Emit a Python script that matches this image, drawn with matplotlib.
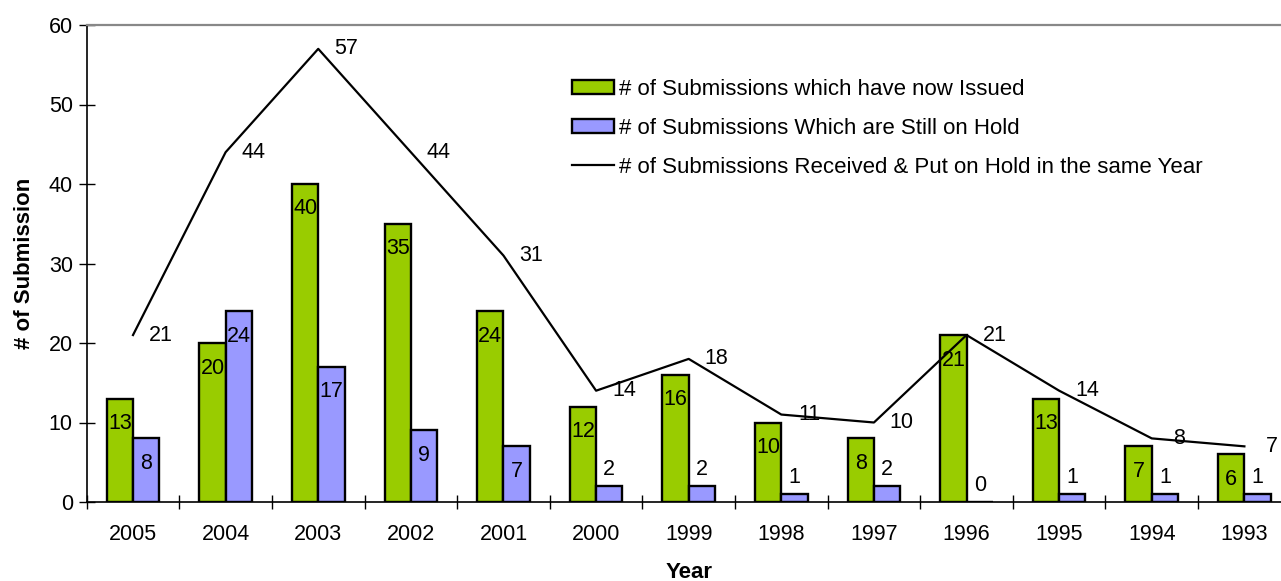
import matplotlib
matplotlib.use("Agg")
import matplotlib.pyplot as plt
import numpy as np
from matplotlib.patches import Patch
from matplotlib.lines import Line2D

plt.rcParams['font.family'] = ['Liberation Sans', 'DejaVu Sans']

years = ['2005', '2004', '2003', '2002', '2001', '2000', '1999',
         '1998', '1997', '1996', '1995', '1994', '1993']
issued = [13, 20, 40, 35, 24, 12, 16, 10, 8, 21, 13, 7, 6]
on_hold = [8, 24, 17, 9, 7, 2, 2, 1, 2, 0, 1, 1, 1]
received = [21, 44, 57, 44, 31, 14, 18, 11, 10, 21, 14, 8, 7]

GREEN = '#99CC00'
BLUE = '#9999FF'
FS = 15.5

W, H = 1281, 581
fig = plt.figure(figsize=(W / 100, H / 100), dpi=100)
ax = fig.add_axes([86.7 / W, (H - 502) / H, 1204 / W, 477 / H])

x = np.arange(len(years))
bw = 0.284

ax.bar(x - bw / 2, issued, bw, color=GREEN, edgecolor='black', linewidth=1.7, zorder=2)
ax.bar(x + bw / 2, on_hold, bw, color=BLUE, edgecolor='black', linewidth=1.7, zorder=2)
ax.plot(x, received, color='black', linewidth=1.6, zorder=3)

px = 477 / 60.0  # pixels per unit on the y axis


def bar_label(xpos, v):
    # inside the bar near its top, or just above it when the bar is short
    if v * px > 45:
        off = -18
    else:
        off = 12
    ax.annotate(str(v), (xpos, v), xytext=(0, off), textcoords='offset points',
                ha='center', va='center', fontsize=FS, zorder=4)


for i in x:
    bar_label(i - bw / 2, issued[i])
    bar_label(i + bw / 2, on_hold[i])
    ax.annotate(str(received[i]), (i, received[i]), xytext=(20, 0),
                textcoords='offset points', ha='center', va='center',
                fontsize=FS, zorder=4)

ax.set_xlim(-0.5, len(years) - 0.5)
ax.set_ylim(0, 60)
ax.set_yticks(range(0, 61, 10))
ax.set_xticks(x)
ax.set_xticklabels(years)
ax.set_xticks(np.arange(-0.5, len(years), 1), minor=True)
ax.tick_params(axis='x', which='major', length=0, pad=16, labelsize=FS)
ax.tick_params(axis='x', which='minor', direction='inout', length=10, width=1)
ax.tick_params(axis='y', direction='inout', length=12, width=1, pad=4, labelsize=FS)

ax.spines['right'].set_visible(False)
ax.spines['top'].set_color('#888888')
ax.spines['top'].set_linewidth(1.6)
ax.spines['left'].set_linewidth(1.2)
ax.spines['bottom'].set_linewidth(1.2)

ax.set_ylabel('# of Submission', fontsize=FS + 0.5, fontweight='bold', labelpad=10)
ax.set_xlabel('Year', fontsize=FS + 0.5, fontweight='bold', labelpad=12)

handles = [
    Patch(facecolor=GREEN, edgecolor='black', linewidth=1.7),
    Patch(facecolor=BLUE, edgecolor='black', linewidth=1.7),
    Line2D([], [], color='black', linewidth=1.6),
]
labels = ['# of Submissions which have now Issued',
          '# of Submissions Which are Still on Hold',
          '# of Submissions Received & Put on Hold in the same Year']
fig.legend(handles, labels, loc='upper left',
           bbox_to_anchor=(572 / W, (H - 79) / H), frameon=False,
           fontsize=16, handlelength=1.9, handleheight=0.6,
           handletextpad=0.2, labelspacing=0.8, borderpad=0, borderaxespad=0)

fig.savefig('out.png', dpi=100)
